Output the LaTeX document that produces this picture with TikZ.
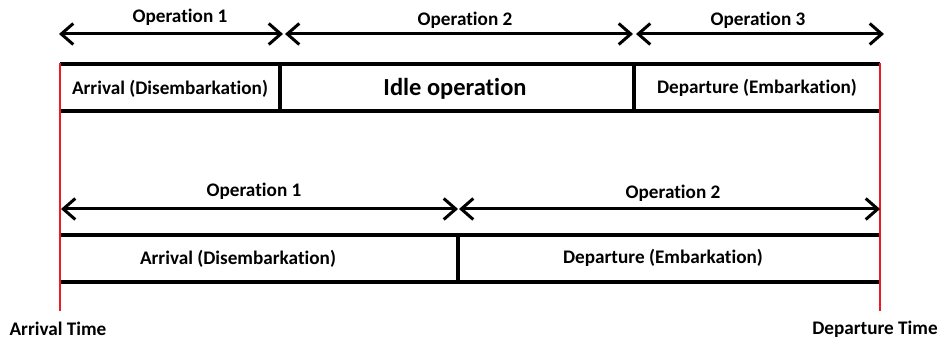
\documentclass[tikz,border=0pt]{standalone}
\usepackage{fontspec}
\setmainfont{Carlito}[Ligatures={NoCommon}]
\usetikzlibrary{arrows.meta}
\definecolor{paintred}{HTML}{ED1C24}
\begin{document}
\begin{tikzpicture}[x=1pt,y=-1pt,
  lbl/.style={font=\bfseries\fontsize{19.2}{22}\selectfont, inner sep=0pt},
  big/.style={font=\bfseries\fontsize{24.5}{28}\selectfont, inner sep=0pt},
  dim/.style={line width=3pt, {Straight Barb[length=12pt,width=21pt,line width=3pt]}-{Straight Barb[length=12pt,width=21pt,line width=3pt]}},
  rowline/.style={line width=3.4pt},
  timeline/.style={line width=2.8pt, draw=paintred}]
\useasboundingbox (0,0) rectangle (938,339);
% coordinates
\coordinate (rt1) at (60,64); \coordinate (rt2) at (880,64);
\coordinate (rb1) at (60,111); \coordinate (rb2) at (880,111);
\coordinate (st1) at (60,235); \coordinate (st2) at (880,235);
\coordinate (sb1) at (60,282); \coordinate (sb2) at (880,282);
\coordinate (ra) at (280,64); \coordinate (rab) at (280,111);
\coordinate (rc) at (634,64); \coordinate (rcb) at (634,111);
\coordinate (sd) at (458,235); \coordinate (sdb) at (458,282);
\coordinate (redAt) at (60,63); \coordinate (redAb) at (60,311);
\coordinate (redDt) at (880,63); \coordinate (redDb) at (880,311);
% arrow end points
\coordinate (a1l) at (59,34); \coordinate (a1r) at (283,34);
\coordinate (a2l) at (285,34); \coordinate (a2r) at (633,34);
\coordinate (a3l) at (636,34); \coordinate (a3r) at (884,34);
\coordinate (b1l) at (61,209); \coordinate (b1r) at (458,209);
\coordinate (b2l) at (459,209); \coordinate (b2r) at (880,209);
% rows
\draw[rowline] (rt1) -- (rt2);
\draw[rowline] (rb1) -- (rb2);
\draw[rowline] (ra) -- (rab);
\draw[rowline] (rc) -- (rcb);
\draw[rowline] (st1) -- (st2);
\draw[rowline] (sb1) -- (sb2);
\draw[rowline] (sd) -- (sdb);
% red time lines
\draw[timeline] (redAt) -- (redAb);
\draw[timeline] (redDt) -- (redDb);
% arrows
\draw[dim] (a1l) -- (a1r);
\draw[dim] (a2l) -- (a2r);
\draw[dim] (a3l) -- (a3r);
\draw[dim] (b1l) -- (b1r);
\draw[dim] (b2l) -- (b2r);
% labels
\node[lbl] (op1) at (180,17) {Operation 1};
\node[lbl] (op2) at (465,20) {Operation 2};
\node[lbl] (op3) at (758,20) {Operation 3};
\node[lbl] (arr1) at (170,89) {Arrival (Disembarkation)};
\node[big] (idle) at (455,89) {Idle operation};
\node[lbl] (dep1) at (757,88) {Departure (Embarkation)};
\node[lbl] (bop1) at (254,191) {Operation 1};
\node[lbl] (bop2) at (673,193) {Operation 2};
\node[lbl] (arr2) at (238,259) {Arrival (Disembarkation)};
\node[lbl] (dep2) at (663,258) {Departure (Embarkation)};
\node[lbl] (at) at (58,329) {Arrival Time};
\node[lbl] (dt) at (875,329) {Departure Time};
\end{tikzpicture}
\end{document}
